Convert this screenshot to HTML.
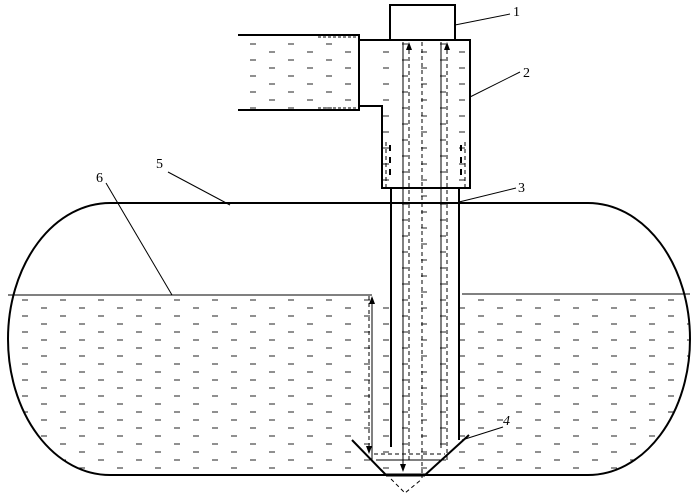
<!DOCTYPE html>
<html><head><meta charset="utf-8"><style>html,body{margin:0;padding:0;background:#fff}svg{display:block}</style></head>
<body>
<svg width="695" height="500" viewBox="0 0 695 500" xmlns="http://www.w3.org/2000/svg" font-family="Liberation Serif, serif">
<defs>
<pattern id="d" width="38" height="16" patternUnits="userSpaceOnUse">
<line x1="3" y1="4" x2="9" y2="4" stroke="#222" stroke-width="1"/>
<line x1="22" y1="12" x2="28" y2="12" stroke="#222" stroke-width="1"/>
</pattern>
<clipPath id="tank"><path d="M110,203 H588 A102,136 0 0 1 588,475 H110 A102,136 0 0 1 110,203 Z"/></clipPath>
<marker id="a" markerWidth="8" markerHeight="8" refX="4" refY="4" orient="auto"><path d="M0,1 L8,4 L0,7 Z" fill="#000"/></marker>
</defs>
<g clip-path="url(#tank)"><rect x="0" y="296" width="695" height="180" fill="url(#d)"/></g>
<rect x="238" y="42" width="120" height="68" fill="url(#d)"/>
<rect x="382" y="42" width="86" height="146" fill="url(#d)"/>
<rect x="392" y="190" width="66" height="250" fill="url(#d)"/>
<path d="M110,203 H588 A102,136 0 0 1 588,475 H110 A102,136 0 0 1 110,203 Z" fill="none" stroke="#000" stroke-width="2"/>
<line x1="8" y1="295" x2="372" y2="295" stroke="#000" stroke-width="1"/>
<line x1="462" y1="294" x2="690" y2="294" stroke="#000" stroke-width="1"/>
<rect x="390" y="5" width="65" height="35" fill="#fff" stroke="#000" stroke-width="2"/>
<path d="M238,35 H359 V110 H238" fill="none" stroke="#000" stroke-width="2"/>
<path d="M359,40 H470 V188 H382 V106 H359" fill="none" stroke="#000" stroke-width="2"/>
<line x1="318" y1="37" x2="357" y2="37" stroke="#000" stroke-dasharray="3,2"/>
<line x1="318" y1="108" x2="357" y2="108" stroke="#000" stroke-dasharray="3,2"/>
<line x1="391" y1="188" x2="391" y2="447" stroke="#000" stroke-width="2"/>
<line x1="459" y1="188" x2="459" y2="440" stroke="#000" stroke-width="2"/>
<line x1="403" y1="42" x2="403" y2="468" stroke="#000" stroke-width="1" marker-end="url(#a)"/>
<line x1="441" y1="42" x2="441" y2="448" stroke="#000" stroke-width="1"/>
<line x1="409" y1="460" x2="409" y2="46" stroke="#000" stroke-dasharray="4,3" marker-end="url(#a)"/>
<line x1="422" y1="42" x2="422" y2="478" stroke="#000" stroke-dasharray="4,3"/>
<line x1="447" y1="460" x2="447" y2="46" stroke="#000" stroke-dasharray="4,3" marker-end="url(#a)"/>
<line x1="386" y1="142" x2="386" y2="188" stroke="#000" stroke-dasharray="4,3"/>
<line x1="465" y1="142" x2="465" y2="188" stroke="#000" stroke-dasharray="4,3"/>
<line x1="390" y1="145" x2="390" y2="180" stroke="#000" stroke-width="2" stroke-dasharray="6,6"/>
<line x1="461" y1="145" x2="461" y2="180" stroke="#000" stroke-width="2" stroke-dasharray="6,6"/>
<line x1="369" y1="296" x2="369" y2="450" stroke="#000" stroke-dasharray="4,3" marker-end="url(#a)"/>
<line x1="372" y1="460" x2="372" y2="300" stroke="#000" marker-end="url(#a)"/>
<line x1="374" y1="454" x2="445" y2="454" stroke="#000" stroke-dasharray="4,3"/>
<line x1="376" y1="460" x2="440" y2="460" stroke="#000"/>
<line x1="352" y1="440" x2="386" y2="475" stroke="#000" stroke-width="2"/>
<line x1="425" y1="475" x2="469" y2="435" stroke="#000" stroke-width="2"/>
<line x1="386" y1="475" x2="425" y2="475" stroke="#000" stroke-width="3"/>
<path d="M391,479 L405,493 L422,479" fill="none" stroke="#000" stroke-dasharray="4,3"/>
<g stroke="#000" stroke-width="1" fill="none">
<line x1="455" y1="25" x2="510" y2="14"/>
<line x1="470" y1="97" x2="520" y2="72"/>
<line x1="459" y1="202" x2="516" y2="188"/>
<line x1="462" y1="440" x2="503" y2="427"/>
<line x1="230" y1="205" x2="168" y2="172"/>
<line x1="172" y1="295" x2="106" y2="183"/>
</g>
<g font-size="14" fill="#000">
<text x="513" y="16">1</text>
<text x="523" y="77">2</text>
<text x="518" y="192">3</text>
<text x="503" y="425" font-style="italic">4</text>
<text x="156" y="168">5</text>
<text x="96" y="182">6</text>
</g>
</svg>
</body></html>
